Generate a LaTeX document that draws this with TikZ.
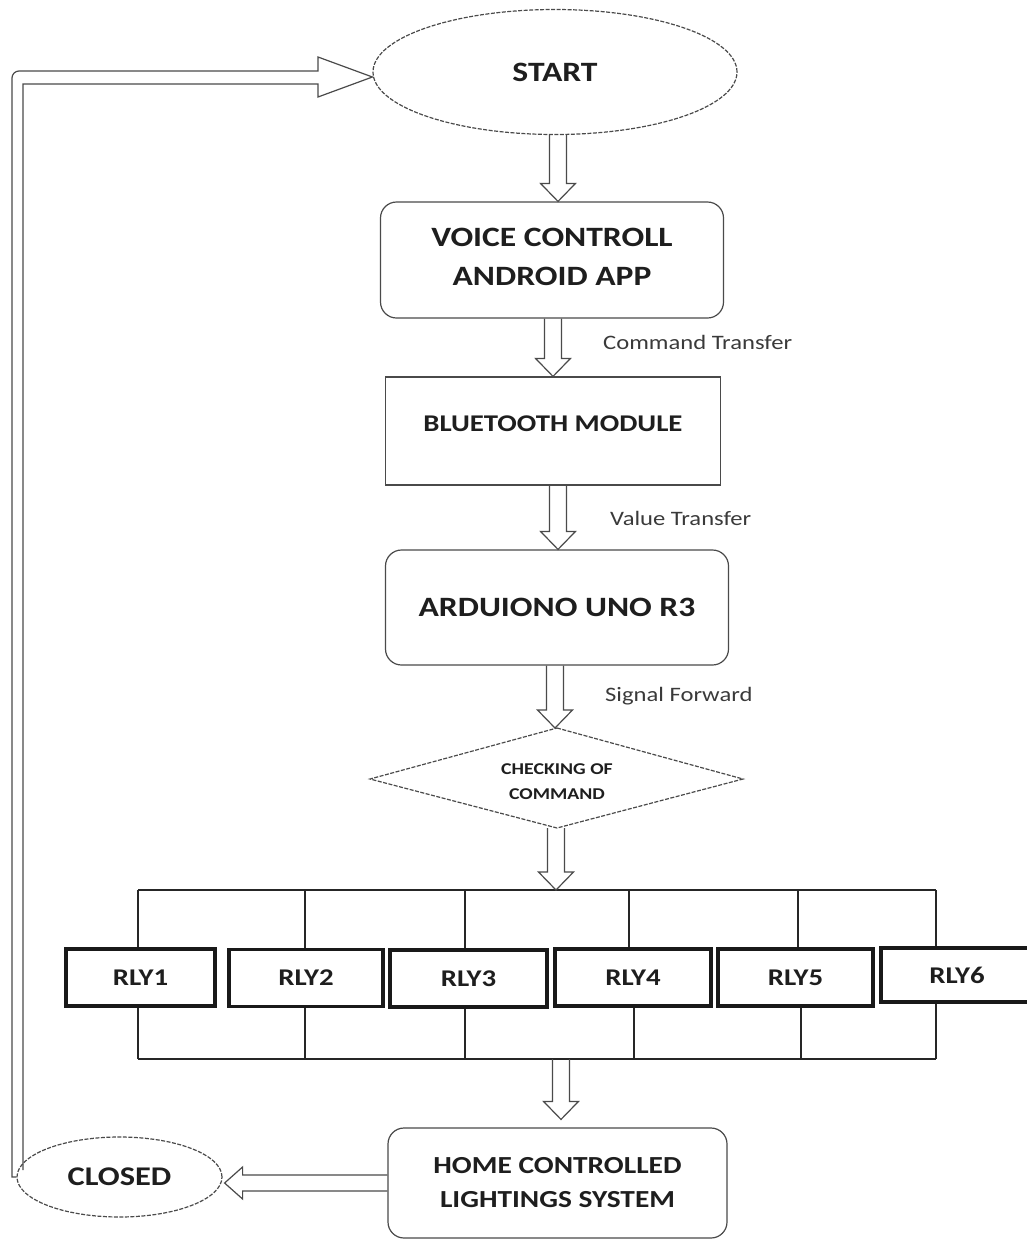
\documentclass[tikz,border=0pt]{standalone}
\usepackage{fontspec}
\setmainfont{Carlito}[FakeStretch=1.2]
\usetikzlibrary{shapes.geometric,calc}
\definecolor{ln}{HTML}{4A4A4A}
\definecolor{tx}{HTML}{1E1E1E}
\definecolor{lb}{HTML}{3A3A3A}
\tikzset{
  box/.style={draw=ln, line width=1.2pt, rounded corners=16pt, inner sep=0pt, text=tx, font=\bfseries\fontsize{25}{34}\selectfont, align=center},
  sqbox/.style={draw=ln, line width=1.2pt, inner sep=0pt, text=tx, font=\bfseries\fontsize{24}{30}\selectfont, align=center},
  oval/.style={ellipse, draw=ln, line width=1.2pt, dash pattern=on 4pt off 1.5pt, inner sep=0pt, text=tx, font=\bfseries\fontsize{27}{30}\selectfont},
  rly/.style={draw=black!90, line width=3.5pt, inner sep=0pt, minimum height=57pt, text=tx, font=\bfseries\fontsize{24}{28}\selectfont},
  bus/.style={draw=black!85, line width=2.4pt},
  harrow/.style={draw=ln, line width=1.2pt, line join=miter},
  dia/.style={draw=ln, line width=1.2pt, dash pattern=on 4pt off 1.5pt},
  lab/.style={text=lb, font=\fontsize{20.5}{24}\selectfont, anchor=west, inner sep=0pt}
}
\newcommand\vflow[2]{%
  \draw[harrow] let \p1=(#1), \p2=(#2) in
    (\x1-8.5pt,\y1) -- (\x1-8.5pt,\y2+18pt) -- (\x1-17.5pt,\y2+18pt) -- (\x1,\y2)
    -- (\x1+17.5pt,\y2+18pt) -- (\x1+8.5pt,\y2+18pt) -- (\x1+8.5pt,\y1);}
\begin{document}
\begin{tikzpicture}[x=1pt,y=-1pt]
\useasboundingbox (0,0) rectangle (1027,1240);
% nodes
\node[oval, minimum width=364pt, minimum height=125pt, font=\bfseries\fontsize{28}{30}\selectfont] (start) at (555,72) {START};
\node[box, minimum width=343pt, minimum height=116pt, font=\bfseries\fontsize{28}{39}\selectfont, text depth=6pt] (voice) at (552,260) {VOICE CONTROLL\\ANDROID APP};
\node[sqbox, minimum width=335pt, minimum height=108pt, text depth=14pt] (bt) at (553,431) {BLUETOOTH MODULE};
\node[box, minimum width=343pt, minimum height=115pt, font=\bfseries\fontsize{28}{32}\selectfont] (ard) at (557,607.5) {ARDUIONO UNO R3};
% decision diamond
\coordinate (chkT) at (557,728);
\coordinate (chkB) at (557,828);
\coordinate (chkL) at (370,779);
\coordinate (chkR) at (743,779);
\draw[dia] (chkT) -- (chkR) -- (chkB) -- (chkL) -- cycle;
\node[inner sep=0pt, text=tx, align=center, font=\bfseries\fontsize{16.5}{25}\selectfont] (chk) at (557,782) {CHECKING OF\\COMMAND};
% relays
\node[rly, minimum width=149pt] (r1) at (140.5,977.5) {RLY1};
\node[rly, minimum width=154pt] (r2) at (306,978) {RLY2};
\node[rly, minimum width=157pt] (r3) at (468.5,978.5) {RLY3};
\node[rly, minimum width=156pt] (r4) at (633,977.5) {RLY4};
\node[rly, minimum width=155pt] (r5) at (795.5,977.5) {RLY5};
\node[rly, minimum width=152pt, minimum height=54pt] (r6) at (957,975) {RLY6};
\node[box, minimum width=339pt, minimum height=110pt, font=\bfseries\fontsize{24.5}{34}\selectfont] (home) at (557.5,1183) {HOME CONTROLLED\\LIGHTINGS SYSTEM};
\node[oval, minimum width=205pt, minimum height=80pt] (closed) at (119.5,1177) {CLOSED};
% bus coordinates
\coordinate (busTL) at (138,890);
\coordinate (busTR) at (936,890);
\coordinate (busBL) at (138,1059);
\coordinate (busBR) at (936,1059);
\coordinate (bustop) at (556,890);
\coordinate (busbot) at (561,1059);
% bus lines
\draw[bus] (busTL) -- (busTR);
\draw[bus] (busBL) -- (busBR);
\draw[bus] (busTL) -- (busTL |- r1.north);
\draw[bus] (busBL) -- (busBL |- r1.south);
\draw[bus] (busTR) -- (busTR |- r6.north);
\draw[bus] (busBR) -- (busBR |- r6.south);
\draw[bus] ([xshift=-1pt]r2.north) -- ([xshift=-1pt]r2.north |- busTL);
\draw[bus] ([xshift=-1pt]r2.south) -- ([xshift=-1pt]r2.south |- busBL);
\draw[bus] ([xshift=-3.5pt]r3.north) -- ([xshift=-3.5pt]r3.north |- busTL);
\draw[bus] ([xshift=-3.5pt]r3.south) -- ([xshift=-3.5pt]r3.south |- busBL);
\draw[bus] ([xshift=-4pt]r4.north) -- ([xshift=-4pt]r4.north |- busTL);
\draw[bus] ([xshift=1pt]r4.south) -- ([xshift=1pt]r4.south |- busBL);
\draw[bus] ([xshift=2.5pt]r5.north) -- ([xshift=2.5pt]r5.north |- busTL);
\draw[bus] ([xshift=5.5pt]r5.south) -- ([xshift=5.5pt]r5.south |- busBL);
% hollow arrows
\vflow{[xshift=3pt]start.south}{voice.north}
\vflow{[xshift=1pt]voice.south}{bt.north}
\vflow{[xshift=5pt]bt.south}{ard.north}
\vflow{[xshift=-2pt]ard.south}{chkT}
\vflow{[xshift=-1pt]chkB}{bustop}
\vflow{busbot}{[yshift=8pt]home.north}
% home -> closed
\draw[harrow] let \p1=(home.west), \p2=(closed.east) in
  (\x1,\y1+8pt) -- (\x2+20pt,\y1+8pt) -- (\x2+20pt,\y1+16pt) -- (\x2+2pt,\y1)
  -- (\x2+20pt,\y1-16pt) -- (\x2+20pt,\y1-8pt) -- (\x1,\y1-8pt);
% feedback loop
\draw[harrow] let \p1=(closed.west), \p2=(start.west) in
  (\x1,\y1) -- (12,1177) [rounded corners=7pt] -- (12,71) [sharp corners] -- (318,71) -- (318,57)
  -- (\x2,\y2-5pt) -- (318,97) -- (318,84) -- (23,84) -- (23,1170);
% labels
\node[lab] (l1) at (603,342) {Command Transfer};
\node[lab] (l2) at (610,518) {Value Transfer};
\node[lab] (l3) at (605,696) {Signal Forward};
\end{tikzpicture}
\end{document}
